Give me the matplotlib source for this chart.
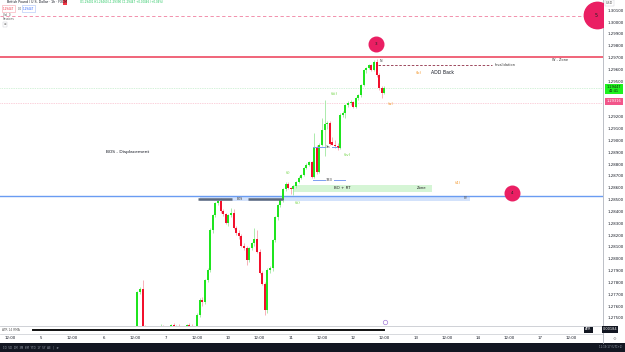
import matplotlib
matplotlib.use("Agg")
import matplotlib.pyplot as plt
from matplotlib.patches import Rectangle

# ---------------- data ----------------
first_idx = 49  # hourly candle index of the first visible candle
opens = [1.27410, 1.27715, 1.27740, 1.27420, 1.27380, 1.27350, 1.27330, 1.27360, 1.27400, 1.27380,
         1.27420, 1.27390, 1.27370, 1.27400, 1.27440, 1.27410, 1.27430, 1.27400, 1.27380, 1.27410,
         1.27440, 1.27420, 1.27400, 1.27410, 1.27525, 1.27652, 1.27630, 1.27821, 1.27905, 1.28243,
         1.28370, 1.28471, 1.28490, 1.28400, 1.28375, 1.28300, 1.28370, 1.28390, 1.28260, 1.28220,
         1.28190, 1.28110, 1.28090, 1.27990, 1.28090, 1.28130, 1.28170, 1.28060, 1.27880, 1.27790,
         1.27567, 1.27905, 1.27920, 1.28159, 1.28350, 1.28454, 1.28497, 1.28590, 1.28630, 1.28600,
         1.28585, 1.28615, 1.28650, 1.28685, 1.28708, 1.28767, 1.28793, 1.28818, 1.28691, 1.28945,
         1.28734, 1.28962, 1.29089, 1.29140, 1.29148, 1.28990, 1.28965, 1.28950, 1.28935, 1.29215,
         1.29232, 1.29300, 1.29317, 1.29325, 1.29283, 1.29359, 1.29380, 1.29469, 1.29595, 1.29612,
         1.29638, 1.29595, 1.29663, 1.29553, 1.29443, 1.29401]
highs = [1.27730, 1.27760, 1.27820, 1.27440, 1.27400, 1.27390, 1.27370, 1.27420, 1.27430, 1.27445,
         1.27440, 1.27420, 1.27410, 1.27450, 1.27460, 1.27440, 1.27450, 1.27430, 1.27420, 1.27450,
         1.27460, 1.27450, 1.27430, 1.27540, 1.27670, 1.27680, 1.27830, 1.27920, 1.28260, 1.28380,
         1.28480, 1.28505, 1.28510, 1.28420, 1.28390, 1.28380, 1.28430, 1.28420, 1.28280, 1.28240,
         1.28210, 1.28130, 1.28110, 1.28100, 1.28140, 1.28260, 1.28240, 1.28080, 1.27900, 1.27800,
         1.27920, 1.27940, 1.28170, 1.28360, 1.28460, 1.28510, 1.28600, 1.28650, 1.28645, 1.28610,
         1.28625, 1.28660, 1.28695, 1.28720, 1.28775, 1.28805, 1.28830, 1.28830, 1.29063, 1.28960,
         1.28975, 1.29190, 1.29342, 1.29160, 1.29160, 1.29030, 1.29000, 1.28980, 1.29230, 1.29250,
         1.29310, 1.29330, 1.29340, 1.29335, 1.29370, 1.29390, 1.29480, 1.29600, 1.29620, 1.29645,
         1.29650, 1.29680, 1.29690, 1.29570, 1.29460, 1.29460]
lows = [1.27380, 1.27700, 1.27400, 1.27350, 1.27320, 1.27300, 1.27290, 1.27340, 1.27360, 1.27370,
        1.27380, 1.27350, 1.27330, 1.27390, 1.27400, 1.27380, 1.27390, 1.27360, 1.27350, 1.27390,
        1.27400, 1.27380, 1.27370, 1.27380, 1.27510, 1.27600, 1.27620, 1.27800, 1.27890, 1.28220,
        1.28350, 1.28450, 1.28390, 1.28360, 1.28290, 1.28280, 1.28350, 1.28250, 1.28200, 1.28170,
        1.28100, 1.28070, 1.27950, 1.27970, 1.28070, 1.28110, 1.28050, 1.27870, 1.27780, 1.27525,
        1.27540, 1.27880, 1.27900, 1.28140, 1.28330, 1.28440, 1.28480, 1.28570, 1.28590, 1.28550,
        1.28540, 1.28600, 1.28640, 1.28675, 1.28700, 1.28760, 1.28785, 1.28680, 1.28685, 1.28720,
        1.28725, 1.28950, 1.28870, 1.29100, 1.28960, 1.28960, 1.28940, 1.28920, 1.28925, 1.29200,
        1.29190, 1.29280, 1.29300, 1.29270, 1.29275, 1.29340, 1.29370, 1.29460, 1.29570, 1.29600,
        1.29590, 1.29585, 1.29540, 1.29430, 1.29359, 1.29390]
closes = [1.27715, 1.27740, 1.27420, 1.27380, 1.27350, 1.27330, 1.27360, 1.27400, 1.27380, 1.27420,
          1.27390, 1.27370, 1.27400, 1.27440, 1.27410, 1.27430, 1.27400, 1.27380, 1.27410, 1.27440,
          1.27420, 1.27400, 1.27410, 1.27525, 1.27652, 1.27630, 1.27821, 1.27905, 1.28243, 1.28370,
          1.28471, 1.28490, 1.28400, 1.28375, 1.28300, 1.28370, 1.28390, 1.28260, 1.28220, 1.28190,
          1.28110, 1.28090, 1.27990, 1.28090, 1.28130, 1.28170, 1.28060, 1.27880, 1.27790, 1.27567,
          1.27905, 1.27920, 1.28159, 1.28350, 1.28454, 1.28497, 1.28590, 1.28630, 1.28600, 1.28585,
          1.28615, 1.28650, 1.28685, 1.28708, 1.28767, 1.28793, 1.28818, 1.28691, 1.28945, 1.28734,
          1.28962, 1.29089, 1.29140, 1.29148, 1.28970, 1.28965, 1.28950, 1.28935, 1.29215, 1.29232,
          1.29300, 1.29317, 1.29325, 1.29283, 1.29359, 1.29380, 1.29469, 1.29595, 1.29612, 1.29638,
          1.29595, 1.29663, 1.29553, 1.29443, 1.29401, 1.29447]

time_tick_idx = [0, 12, 24, 36, 48, 60, 72, 84, 96, 108, 120, 132, 144, 156, 168, 180, 192, 204, 216]
time_tick_labels = ["12:00", "5", "12:00", "6", "12:00", "7", "12:00", "10", "12:00", "11",
                    "12:00", "12", "12:00", "13", "12:00", "14", "12:00", "17", "12:00"]
price_ticks = [1.30100, 1.30000, 1.29900, 1.29800, 1.29700, 1.29600, 1.29500,
               1.29200, 1.29100, 1.29000, 1.28900, 1.28800, 1.28700, 1.28600, 1.28500,
               1.28400, 1.28300, 1.28200, 1.28100, 1.28000, 1.27900, 1.27800, 1.27700,
               1.27600, 1.27500]

last_price = 1.29447
alert_price = 1.29316
red_level = 1.29708
blue_level = 1.28530
top_dash_level = 1.30052
atr_value = 0.00184
atr_span = [9, 144]

# ---------------- figure ----------------
W, H = 625, 352
fig = plt.figure(figsize=(W / 100, H / 100), dpi=100)
fig.patch.set_facecolor("white")

def fx(px):
    return px / W

def fy(py):
    return 1 - py / H

PLOT_R = 603
ax = fig.add_axes([0, fy(326), fx(PLOT_R), 326 / H])
ax.set_xlim(-3.85, 228.1)
ax.set_ylim(1.27431, 1.30187)
ax.set_facecolor("white")
for s in ["left", "top", "bottom"]:
    ax.spines[s].set_visible(False)
ax.spines["right"].set_color("#b2b5be")
ax.spines["right"].set_linewidth(0.6)
ax.set_xticks([])
ax.yaxis.tick_right()
ax.set_yticks(price_ticks)
ax.set_yticklabels([f"{p:.5f}" for p in price_ticks])
ax.tick_params(axis="y", length=0, pad=3.2, labelsize=2.8, labelcolor="#131722")

GREEN, RED = "#1fe41f", "#f2102c"
GREEN_W, RED_W = "#9fe89f", "#f7a3ad"

idx = list(range(first_idx, first_idx + len(opens)))
up = [c >= o for o, c in zip(opens, closes)]
ax.vlines(idx, lows, highs, colors=[GREEN_W if u else RED_W for u in up], lw=0.6, zorder=3)
bottoms = [min(o, c) for o, c in zip(opens, closes)]
heights = [max(abs(c - o), 0.00003) for o, c in zip(opens, closes)]
ax.bar(idx, heights, bottom=bottoms, width=0.75,
       color=[GREEN if u else RED for u in up], linewidth=0, zorder=4)

# horizontal levels
ax.axhline(red_level, color="#ec3a55", lw=1.1, zorder=2)
ax.axhline(blue_level, color="#6a9cf2", lw=1.0, zorder=2)
ax.axhline(top_dash_level, color="#f080a0", lw=0.6, ls=(0, (4, 3)), zorder=2)
ax.axhline(alert_price, color="#f7a3b8", lw=0.5, ls=(0, (1, 1.5)), zorder=1)
ax.axhline(last_price, color="#a9e5b4", lw=0.5, ls=(0, (1, 1.5)), zorder=1)

# zones
ax.add_patch(Rectangle((73.0, 1.28490), 104.0, blue_level - 1.28490,
                       facecolor="#d3e2fb", edgecolor="none", zorder=1))
ax.text(175.4, 1.28510, "BV", fontsize=2.2, color="#555", ha="center", va="center", zorder=5)
ax.add_patch(Rectangle((108.8, 1.28565), 53.5, 0.00059,
                       facecolor="#d5f5d5", edgecolor="none", zorder=1))
ax.text(127.7, 1.28595, "BO + RT", fontsize=2.9, color="#222", ha="center", va="center", zorder=5)
ax.text(158.5, 1.28595, "Zone", fontsize=2.7, color="#222", ha="center", va="center", zorder=5)

# BOS bar
ax.plot([72.3, 85.5], [1.28506, 1.28506], color="#5e6a7d", lw=1.8, solid_capstyle="butt", zorder=5)
ax.plot([91.5, 105.0], [1.28506, 1.28506], color="#5e6a7d", lw=1.8, solid_capstyle="butt", zorder=5)
ax.text(88.5, 1.28506, "BOS", fontsize=2.2, color="#333", ha="center", va="center", zorder=6)

# measurement lines
ax.plot([116.5, 121.0], [1.28666, 1.28666], color="#7b9ef0", lw=0.7, zorder=5)
ax.plot([124.6, 128.8], [1.28666, 1.28666], color="#7b9ef0", lw=0.7, zorder=5)
ax.text(122.8, 1.28666, "333", fontsize=2.5, color="#333", ha="center", va="center", zorder=6)
ax.plot([116.5, 121.2], [1.28945, 1.28945], color="#7b9ef0", lw=0.7, zorder=5)
ax.plot([123.8, 125.8], [1.28945, 1.28945], color="#7b9ef0", lw=0.7, zorder=5)
ax.text(122.5, 1.28945, "3m", fontsize=2.0, color="#333", ha="center", va="center", zorder=6)

# invalidation dashed line
ax.plot([141.5, 185.4], [1.29638, 1.29638], color="#8e2d45", lw=0.6, ls=(0, (3, 2)), zorder=5)
ax.text(186.5, 1.29638, "Invalidation", fontsize=2.5, color="#333", ha="left", va="center", zorder=6)
ax.text(142.7, 1.29672, "N", fontsize=2.3, color="#333", ha="center", va="center", zorder=6)
ax.text(211.5, 1.29682, "W - Zone", fontsize=2.5, color="#333", ha="center", va="center", zorder=6)

# wave labels
wave_green = "#6fd444"
for t, xi, yp in [("(i)", 106.9, 1.28725), ("(ii)", 110.6, 1.28470),
                  ("(iii)", 124.6, 1.29393), ("(iv)", 129.6, 1.28877)]:
    ax.text(xi, yp, t, fontsize=3.2, color=wave_green, ha="center", va="center", zorder=6)
wave_orange = "#f39b34"
for t, xi, yp in [("(a)", 146.5, 1.29308), ("(b)", 157.3, 1.29570), ("(4)", 172.3, 1.28641)]:
    ax.text(xi, yp, t, fontsize=3.2, color=wave_orange, ha="center", va="center", zorder=6)

ax.text(166.5, 1.29570, "ADD Back", fontsize=3.3, color="#131722", ha="center", va="center", zorder=6)
ax.text(45.4, 1.28903, "BOS - Displacement", fontsize=3.2, color="#131722", ha="center", va="center", zorder=6)

# pink circles
PINK = "#ea1f63"
for lab, xi, yp, ms in [("3", 140.8, 1.29815, 10.5), ("4", 193.1, 1.28556, 10.5), ("5", 225.6, 1.30060, 19)]:
    ax.plot([xi], [yp], "o", ms=ms, mfc=PINK, mec=PINK, zorder=7)
    ax.text(xi, yp, lab, fontsize=3.0 if ms < 15 else 3.4, color="#222", ha="center", va="center", zorder=8)
ax.plot([144.2], [1.27466], "o", ms=3.2, mfc="white", mec="#a57fd8", mew=0.5, zorder=7)

# ---------------- ATR pane ----------------
ax2 = fig.add_axes([0, fy(334), fx(PLOT_R), 8 / H])
ax2.set_xlim(-3.85, 228.1)
ax2.set_ylim(0, 0.0037)
for s in ["left", "top", "right"]:
    ax2.spines[s].set_visible(False)
ax2.spines["bottom"].set_color("#c8cad0")
ax2.spines["bottom"].set_linewidth(0.5)
ax2.plot(atr_span, [atr_value, atr_value], color="#111", lw=1.4)
ax2.set_yticks([])
ax2.set_xticks(time_tick_idx)
ax2.set_xticklabels(time_tick_labels)
ax2.tick_params(axis="x", length=0, pad=1.6, labelsize=2.8, labelcolor="#131722")
ax2.text(0.003, 0.5, "ATR 14 RMA", transform=ax2.transAxes, fontsize=2.2, color="#555", va="center")

# separator line between panes
fig.add_artist(plt.Line2D([0, fx(PLOT_R)], [fy(326.3), fy(326.3)], color="#c8cad0", lw=0.6))
fig.add_artist(plt.Line2D([fx(PLOT_R), fx(PLOT_R)], [fy(343), fy(326)], color="#b2b5be", lw=0.6))

# ---------------- price axis labels ----------------
fig.text(fx(606), fy(3), "USD", fontsize=2.4, color="#555", va="center",
         bbox=dict(boxstyle="square,pad=0.25", fc="white", ec="#c8cad0", lw=0.3))
fig.text(fx(614), fy(89), f"{last_price:.5f}\n41:41", fontsize=2.5, color="#111", ha="center", va="center",
         linespacing=1.1, bbox=dict(boxstyle="square,pad=0.35", fc="#1ef21e", ec="none"))
fig.text(fx(614), fy(101.5), f"{alert_price:.5f}", fontsize=2.6, color="white", ha="center", va="center",
         bbox=dict(boxstyle="square,pad=0.35", fc="#f2558a", ec="none"))
fig.text(fx(588.5), fy(329.5), "ATR", fontsize=2.4, color="white", ha="center", va="center",
         bbox=dict(boxstyle="square,pad=0.3", fc="#131722", ec="none"))
fig.text(fx(610), fy(329.5), f"{atr_value:.5f}", fontsize=2.5, color="white", ha="center", va="center",
         bbox=dict(boxstyle="square,pad=0.3", fc="#131722", ec="none"))
fig.text(fx(614), fy(338.5), "⚙", fontsize=3, color="#999", ha="center", va="center")

# ---------------- top-left legend ----------------
fig.text(fx(7), fy(2.3), "British Pound / U.S. Dollar · 1h · FXCM", fontsize=2.3, color="#131722", va="center")
fig.add_artist(Rectangle((fx(63), fy(4.5)), fx(4), 4.3 / H, transform=fig.transFigure, fc="#f23645", ec="none"))
fig.text(fx(80), fy(2.3), "O1.29401 H1.29460 L1.29390 C1.29447 +0.00046 (+0.04%)", fontsize=2.0,
         color="#22c55e", va="center")
fig.text(fx(3), fy(8.5), "1.29447", fontsize=2.0, color="#f23645", va="center",
         bbox=dict(boxstyle="square,pad=0.4", fc="white", ec="#f7a3ad", lw=0.4))
fig.text(fx(18), fy(8.5), "0.0", fontsize=2.0, color="#555", va="center")
fig.text(fx(23), fy(8.5), "1.29447", fontsize=2.0, color="#2962ff", va="center",
         bbox=dict(boxstyle="square,pad=0.4", fc="white", ec="#a9c1f7", lw=0.4))
fig.text(fx(3), fy(15), "Vol  0", fontsize=2.0, color="#555", va="center")
fig.text(fx(3), fy(19.5), "Sessions", fontsize=2.0, color="#555", va="center")
fig.text(fx(3.5), fy(24.5), "≡", fontsize=2.2, color="#555", va="center",
         bbox=dict(boxstyle="square,pad=0.3", fc="white", ec="#c8cad0", lw=0.3))

# ---------------- bottom toolbar ----------------
fig.add_artist(Rectangle((0, 0), 1, 9 / H, transform=fig.transFigure, fc="#131722", ec="none"))
fig.text(fx(3), fy(347.5), "1D  5D  1M  3M  6M  YTD  1Y  5Y  All   |   ⟳", fontsize=1.9, color="#9aa0ad", va="center")
fig.text(fx(622), fy(347.5), "11:19:17 (UTC+2)", fontsize=1.9, color="#9aa0ad", va="center", ha="right")

fig.savefig("out.png", dpi=100, facecolor="white")
